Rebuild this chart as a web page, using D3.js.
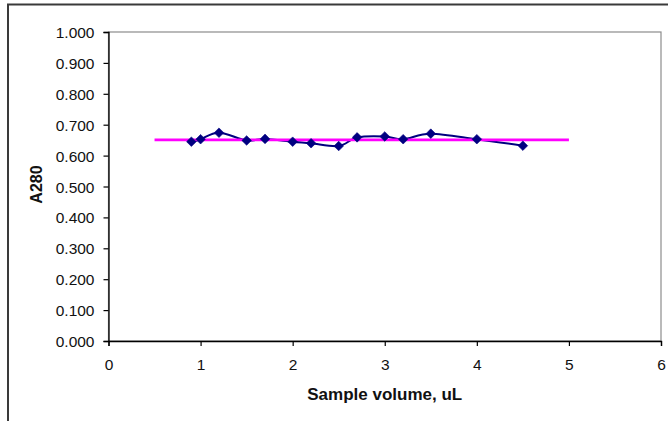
<!DOCTYPE html>
<html>
<head>
<meta charset="utf-8">
<script src="https://cdn.jsdelivr.net/npm/d3@7"></script>
<style>
  html, body { margin: 0; padding: 0; background: #fff; }
  svg { display: block; font-family: Arial, "Liberation Sans", sans-serif; }
</style>
</head>
<body>
<svg id="chart" width="668" height="421"></svg>
<script>
// Absorbance at 280 nm measured across sample volumes
const sampleVolumes = [0.9, 1.0, 1.2, 1.5, 1.7, 2.0, 2.2, 2.5, 2.7, 3.0, 3.2, 3.5, 4.0, 4.5];
const a280Values    = [0.645, 0.653, 0.674, 0.649, 0.654, 0.645, 0.640, 0.631, 0.659, 0.662, 0.653, 0.671, 0.653, 0.632];

// Reference level (mean absorbance) spanning 0.5 to 5 uL
const referenceX = [0.5, 5.0];
const referenceLevel = 0.651;

const xTicks = [0, 1, 2, 3, 4, 5, 6];
const yTicks = [0, 0.1, 0.2, 0.3, 0.4, 0.5, 0.6, 0.7, 0.8, 0.9, 1.0];

const svg = d3.select("#chart");
const plot = { left: 108.5, right: 661, top: 32, bottom: 341 };

const x = d3.scaleLinear().domain([0, 6]).range([plot.left, plot.right]);
const y = d3.scaleLinear().domain([0, 1]).range([plot.bottom, plot.top]);

// Chart frame (top and left edges)
svg.append("path")
  .attr("d", `M8,421 L8,4.5 L668,4.5`)
  .attr("fill", "none").attr("stroke", "#3a3a3a").attr("stroke-width", 2);

// Plot area border
svg.append("rect")
  .attr("x", plot.left).attr("y", plot.top)
  .attr("width", plot.right - plot.left).attr("height", plot.bottom - plot.top)
  .attr("fill", "none").attr("stroke", "#8c8c8c").attr("stroke-width", 1.2);

// Axes
const xAxis = svg.append("g")
  .attr("transform", `translate(0,${plot.bottom})`)
  .call(d3.axisBottom(x).tickValues(xTicks).tickFormat(d3.format("d")).tickSize(5).tickPadding(13));
const yAxis = svg.append("g")
  .attr("transform", `translate(${plot.left},0)`)
  .call(d3.axisLeft(y).tickValues(yTicks).tickFormat(d3.format(".3f")).tickSize(5).tickPadding(9));

[xAxis, yAxis].forEach(g => {
  g.select(".domain").attr("stroke", "#000").attr("stroke-width", 1.3);
  g.selectAll(".tick line").attr("stroke", "#000").attr("stroke-width", 1.2);
  g.selectAll(".tick text")
    .attr("fill", "#111")
    .style("font-size", "15.5px")
    .style("font-family", "Arial, 'Liberation Sans', sans-serif");
});
yAxis.selectAll(".tick text").attr("dy", "0.36em");

// Axis titles
svg.append("text")
  .attr("x", (plot.left + plot.right) / 2).attr("y", 400)
  .attr("text-anchor", "middle")
  .style("font-size", "17px").style("font-weight", "bold").attr("fill", "#111")
  .text("Sample volume, uL");

svg.append("text")
  .attr("transform", `translate(42,${(plot.top + plot.bottom) / 2 - 2}) rotate(-90)`)
  .attr("text-anchor", "middle")
  .style("font-size", "16px").style("font-weight", "bold").attr("fill", "#111")
  .text("A280");

// Measured series (smoothed line)
const points = sampleVolumes.map((v, i) => [v, a280Values[i]]);
const line = d3.line()
  .x(d => x(d[0])).y(d => y(d[1]))
  .curve(d3.curveCatmullRom.alpha(0));

svg.append("path")
  .datum(points)
  .attr("d", line)
  .attr("fill", "none").attr("stroke", "#000080").attr("stroke-width", 2);

// Reference level line
svg.append("path")
  .datum(referenceX.map(v => [v, referenceLevel]))
  .attr("d", d3.line().x(d => x(d[0])).y(d => y(d[1])))
  .attr("fill", "none").attr("stroke", "#ff00ff").attr("stroke-width", 2.6);

// Diamond markers
svg.append("g").selectAll("path")
  .data(points)
  .join("path")
  .attr("transform", d => `translate(${x(d[0])},${y(d[1])})`)
  .attr("d", "M0,-4.8 L4.8,0 L0,4.8 L-4.8,0 Z")
  .attr("fill", "#000080").attr("stroke", "#000080").attr("stroke-width", 0.6);
</script>
</body>
</html>
